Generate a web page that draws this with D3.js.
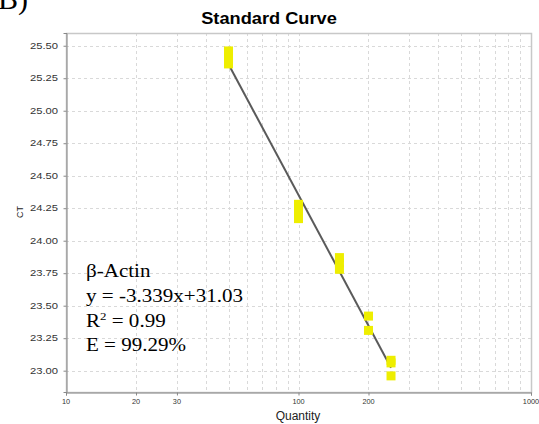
<!DOCTYPE html>
<html>
<head>
<meta charset="utf-8">
<script src="https://cdn.jsdelivr.net/npm/d3@7"></script>
<style>
  html, body { margin: 0; padding: 0; background: #fff; }
  svg { display: block; }
</style>
</head>
<body>
<svg id="chart" width="539" height="424"></svg>
<script>
// Standard curve data: template quantity vs. threshold cycle (replicates)
const quantities = [50, 50, 50, 100, 100, 100, 150, 150, 150, 200, 200, 250, 250, 250];
const ctValues   = [25.46, 25.41, 25.36, 24.28, 24.22, 24.17, 23.87, 23.83, 23.78, 23.42, 23.31, 23.08, 23.06, 22.96];

// Fitted regression: Ct = slope * log10(quantity) + intercept
const fitSlope = -3.339;
const fitIntercept = 31.03;
const fitRange = [50, 250];

const xTickValues = [10, 20, 30, 100, 200, 1000];
const xGridValues = [20, 30, 40, 50, 60, 70, 80, 90, 100, 200, 300, 400, 500, 600, 700, 800, 900];
const yTickValues = [23.00, 23.25, 23.50, 23.75, 24.00, 24.25, 24.50, 24.75, 25.00, 25.25, 25.50];

const annotationLines = ["β-Actin", "y = -3.339x+31.03", "R", "E = 99.29%"];

const svg = d3.select("#chart");
const plot = { left: 66, right: 531, top: 33, bottom: 392 };

const x = d3.scaleLog().domain([10, 1000]).range([plot.left, plot.right]);
const y = d3.scaleLinear().domain([22.836, 25.598]).range([plot.bottom, plot.top]);

// text helper with horizontal stretch
function stretchedText(parent, tx, ty, str, opts) {
  const t = parent.append("text")
    .attr("transform", `translate(${tx},${ty}) scale(${opts.sx || 1},1)`)
    .attr("font-family", opts.family || "'Liberation Sans', Arial, sans-serif")
    .attr("font-size", opts.size)
    .attr("font-weight", opts.weight || "normal")
    .attr("fill", opts.fill || "#000")
    .attr("text-anchor", opts.anchor || "start")
    .text(str);
  return t;
}

// Panel letter (partly above the top edge)
stretchedText(svg, -2, 9, "B)", { family: "'Liberation Serif', 'Times New Roman', serif", size: 30 });

// Title
stretchedText(svg, 269, 24, "Standard Curve", { size: 16, weight: "bold", sx: 1.14, anchor: "middle" });

// Grid lines
const grid = svg.append("g").attr("stroke", "#d9d9d9").attr("stroke-width", 1).attr("stroke-dasharray", "3,3");
grid.selectAll("line.h").data(yTickValues).join("line")
  .attr("x1", plot.left).attr("x2", plot.right)
  .attr("y1", d => Math.round(y(d)) + 0.5).attr("y2", d => Math.round(y(d)) + 0.5);
grid.selectAll("line.v").data(xGridValues).join("line")
  .attr("y1", plot.top).attr("y2", plot.bottom)
  .attr("x1", d => Math.round(x(d)) + 0.5).attr("x2", d => Math.round(x(d)) + 0.5);

// Plot border
svg.append("rect")
  .attr("x", plot.left + 0.5).attr("y", plot.top + 0.5)
  .attr("width", plot.right - plot.left).attr("height", plot.bottom - plot.top)
  .attr("fill", "none").attr("stroke", "#c8c8c8").attr("stroke-width", 1.5);

// Y axis
const yAxis = d3.axisLeft(y).tickValues(yTickValues).tickSize(3).tickFormat(() => "");
const gy = svg.append("g").attr("transform", `translate(${plot.left + 0.5},0)`).call(yAxis);
gy.select(".domain").attr("stroke", "#888");
gy.selectAll(".tick line").attr("stroke", "#888");
yTickValues.forEach(v => {
  stretchedText(svg, 58, y(v) + 3, d3.format(".2f")(v), { size: 9.5, sx: 1.18, fill: "#333", anchor: "end" });
});

// X axis
const xAxis = d3.axisBottom(x).tickValues(xTickValues).tickSize(3).tickFormat(() => "");
const gx = svg.append("g").attr("transform", `translate(0,${plot.bottom + 0.5})`).call(xAxis);
gx.select(".domain").attr("stroke", "#888");
gx.selectAll(".tick line").attr("stroke", "#888");
xTickValues.forEach(v => {
  stretchedText(svg, x(v), 404, String(v), { size: 7, sx: 1.05, fill: "#333", anchor: "middle" });
});

// Axis titles
stretchedText(svg, 298, 420, "Quantity", { size: 12, fill: "#222", anchor: "middle" });
svg.append("text")
  .attr("transform", "translate(23,212) rotate(-90)")
  .attr("font-family", "'Liberation Sans', Arial, sans-serif")
  .attr("font-size", 9).attr("fill", "#222").attr("text-anchor", "middle")
  .text("CT");

// Regression line
const fitLine = d3.line().x(d => x(d)).y(d => y(fitSlope * Math.log10(d) + fitIntercept));
svg.append("path")
  .datum(fitRange)
  .attr("d", fitLine)
  .attr("fill", "none").attr("stroke", "#5a5a5a").attr("stroke-width", 2);

// Data points
const pts = quantities.map((q, i) => ({ q, ct: ctValues[i] }));
svg.append("g").selectAll("rect").data(pts).join("rect")
  .attr("x", d => x(d.q) - 4.5).attr("y", d => y(d.ct) - 4.5)
  .attr("width", 9).attr("height", 9)
  .attr("fill", "#eeee00");

// Annotation block
const ann = svg.append("g");
const serif = "'Liberation Serif', 'Times New Roman', serif";
const baselines = [277, 302, 326.5, 350.5];
const annSx = 1.17;
stretchedText(ann, 86, baselines[0], annotationLines[0], { family: serif, size: 18, sx: annSx });
stretchedText(ann, 86, baselines[1], annotationLines[1], { family: serif, size: 18, sx: annSx });
const r2 = ann.append("text")
  .attr("transform", `translate(86,${baselines[2]}) scale(${annSx},1)`)
  .attr("font-family", serif).attr("font-size", 18);
r2.append("tspan").text("R");
r2.append("tspan").attr("font-size", 11).attr("dy", -7).text("2");
r2.append("tspan").attr("dy", 7).text(" = 0.99");
stretchedText(ann, 86, baselines[3], annotationLines[3], { family: serif, size: 18, sx: annSx });
</script>
</body>
</html>
